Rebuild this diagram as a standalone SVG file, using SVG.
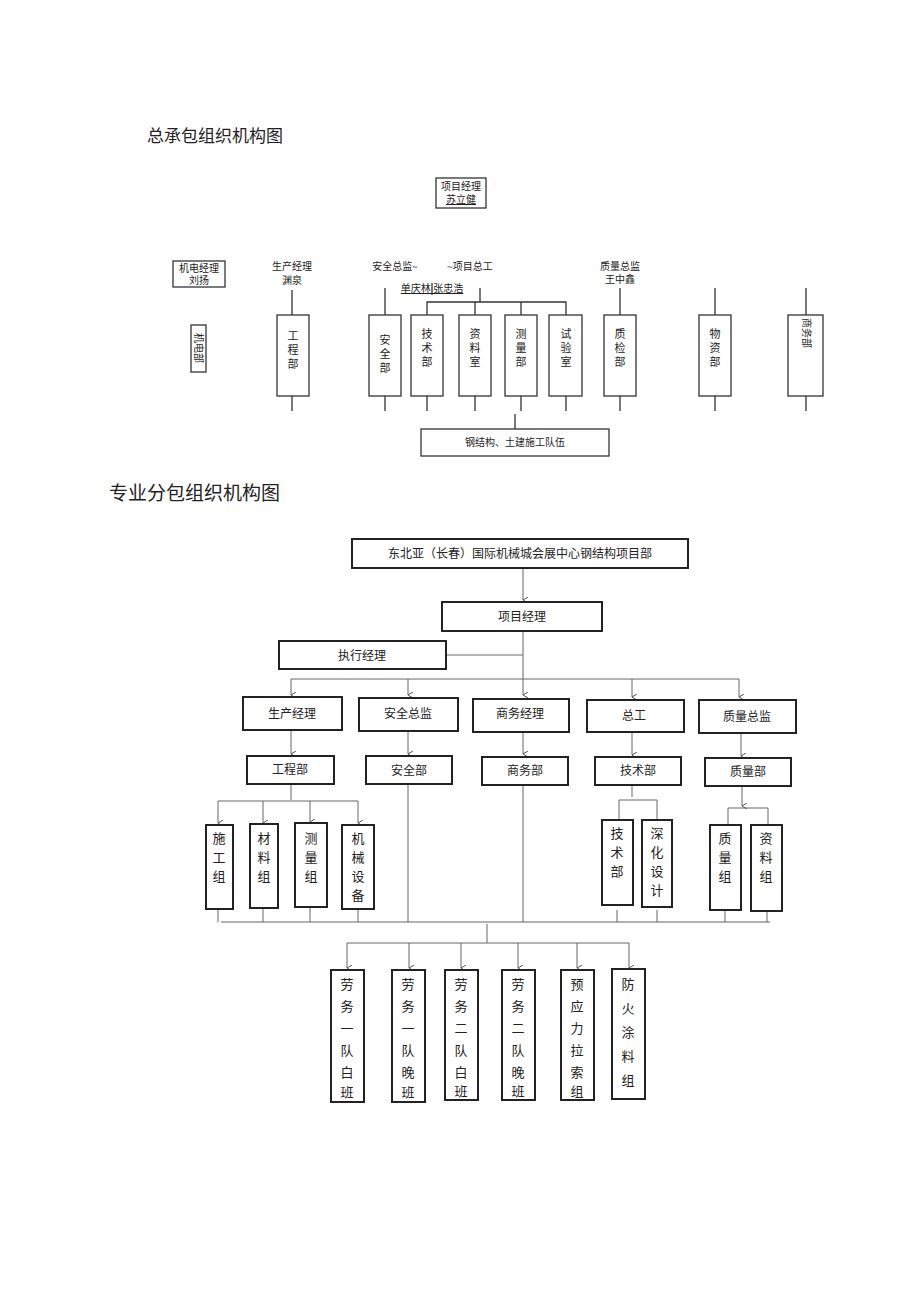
<svg xmlns="http://www.w3.org/2000/svg" width="920" height="1301" viewBox="0 0 920 1301">
<style>
text{font-family:"Liberation Serif","Noto Sans CJK SC",serif;fill:#222}
.b{fill:#fff;stroke:#333;stroke-width:1.3}
.bb{fill:#fff;stroke:#222;stroke-width:2}
.l{stroke:#333;stroke-width:1.3;fill:none}
.g{stroke:#666;stroke-width:1;fill:none}
.s{font-size:10px;text-anchor:middle}
.m{font-size:12px;text-anchor:middle;font-family:"Liberation Sans","Noto Sans CJK SC",sans-serif}
.v{font-size:13px;text-anchor:middle;font-family:"Liberation Sans","Noto Sans CJK SC",sans-serif}
.vs{font-size:11px;text-anchor:middle}
</style>
<defs><marker id="a" markerWidth="6" markerHeight="6" refX="3" refY="5" orient="auto-start-reverse" markerUnits="userSpaceOnUse"><path d="M0,0 L3,5 L6,0" fill="none" stroke="#555" stroke-width="1"/></marker></defs>
<rect width="920" height="1301" fill="#fff"/>
<text x="147" y="142" font-size="17">总承包组织机构图</text>
<g id="top">
<g id="pm1"><rect class="b" x="436" y="178" width="50" height="30"/><text class="s" x="461" y="190">项目经理</text><text class="s" x="461" y="203" text-decoration="underline">苏立健</text></g>
<g id="jd"><rect class="b" x="173" y="261" width="52" height="26"/><text class="s" x="199" y="272">机电经理</text><text class="s" x="199" y="284">刘扬</text></g>
<g id="jdb"><rect class="b" x="191" y="325" width="15" height="47"/><text class="s" transform="translate(195,348) rotate(90)">机电部</text></g>
<text class="s" x="292" y="270">生产经理</text><text class="s" x="292" y="284">渊泉</text>
<text class="s" x="395" y="270">安全总监~</text><text class="s" x="470" y="270">~项目总工</text>
<text class="s" x="432" y="292" text-decoration="underline">单庆林 张忠浩</text>
<line class="l" x1="432" y1="283" x2="432" y2="295" stroke-width="2"/>
<text class="s" x="620" y="270">质量总监</text><text class="s" x="620" y="283">王中鑫</text>
<g class="l">
<path d="M292 290V315M292 396V411M385 288V315M385 396V411M427 396V411M475 396V411M521 396V411M566 396V411M620 288V315M620 396V411M715 288V315M715 396V411M806 288V315M806 396V411"/>
<path d="M480 288V302M427 315V302H566V315M475 302V315M521 302V315M515 414V429"/>
</g>
<g id="gcb"><rect class="b" x="277" y="315" width="32" height="81"/><text class="vs" x="293" y="340">工</text><text class="vs" x="293" y="354">程</text><text class="vs" x="293" y="368">部</text></g>
<g id="aqb"><rect class="b" x="369" y="315" width="32" height="81"/><text class="vs" x="385" y="344">安</text><text class="vs" x="385" y="358">全</text><text class="vs" x="385" y="372">部</text></g>
<g id="jsb"><rect class="b" x="411" y="315" width="32" height="81"/><text class="vs" x="427" y="338">技</text><text class="vs" x="427" y="352">术</text><text class="vs" x="427" y="366">部</text></g>
<g id="zls"><rect class="b" x="459" y="315" width="32" height="81"/><text class="vs" x="475" y="338">资</text><text class="vs" x="475" y="352">料</text><text class="vs" x="475" y="366">室</text></g>
<g id="clb"><rect class="b" x="505" y="315" width="32" height="81"/><text class="vs" x="521" y="338">测</text><text class="vs" x="521" y="352">量</text><text class="vs" x="521" y="366">部</text></g>
<g id="sys"><rect class="b" x="549" y="315" width="33" height="81"/><text class="vs" x="566" y="338">试</text><text class="vs" x="566" y="352">验</text><text class="vs" x="566" y="366">室</text></g>
<g id="zjb"><rect class="b" x="604" y="315" width="32" height="81"/><text class="vs" x="620" y="338">质</text><text class="vs" x="620" y="352">检</text><text class="vs" x="620" y="366">部</text></g>
<g id="wzb"><rect class="b" x="699" y="315" width="32" height="81"/><text class="vs" x="715" y="338">物</text><text class="vs" x="715" y="352">资</text><text class="vs" x="715" y="366">部</text></g>
<g id="swb"><rect class="b" x="788" y="315" width="35" height="81"/><text class="s" transform="translate(803,333) rotate(90)">商务部</text></g>
<g id="gjg"><rect class="b" x="421" y="429" width="188" height="27"/><text class="s" x="515" y="446">钢结构、土建施工队伍</text></g>
</g>
<text x="109" y="500" font-size="19">专业分包组织机构图</text>
<g id="conn">
<g class="g">
<path d="M523 568V600" marker-end="url(#a)"/>
<path d="M523 631V695" marker-end="url(#a)"/>
<path d="M446 655H523"/>
<path d="M291 679H739"/>
<path d="M291 679V695" marker-end="url(#a)"/><path d="M408 679V695" marker-end="url(#a)"/><path d="M632 679V697" marker-end="url(#a)"/><path d="M739 679V697" marker-end="url(#a)"/>
<path d="M291 730V754" marker-end="url(#a)"/><path d="M408 731V754" marker-end="url(#a)"/><path d="M523 732V754" marker-end="url(#a)"/><path d="M632 732V755" marker-end="url(#a)"/><path d="M741 733V756" marker-end="url(#a)"/>
<path d="M291 784V800"/><path d="M218 801H358"/>
<path d="M218 801V823" marker-end="url(#a)"/><path d="M263 801V823" marker-end="url(#a)"/><path d="M310 801V822" marker-end="url(#a)"/><path d="M358 801V823" marker-end="url(#a)"/>
<path d="M632 785V797M619 800H657M619 800V820M657 800V820"/>
<path d="M742 786V806" marker-end="url(#a)"/><path d="M728 808H768M728 808V825M768 808V825"/>
<path d="M218 909V922M263 908V922M310 907V922M358 909V922M408 784V922M523 785V922M617 910V922M657 910V922M725 910V922M767 911V922"/>
<path d="M221 922H770"/>
<path d="M487 924V943"/><path d="M347 943H629"/>
<path d="M347 943V968" marker-end="url(#a)"/><path d="M409 943V968" marker-end="url(#a)"/><path d="M461 943V968" marker-end="url(#a)"/><path d="M518 943V968" marker-end="url(#a)"/><path d="M577 943V968" marker-end="url(#a)"/><path d="M629 943V968" marker-end="url(#a)"/>
</g>
</g>
<g id="n0"><rect class="bb" x="352" y="539" width="336" height="29"/><text class="m" x="520" y="558">东北亚（长春）国际机械城会展中心钢结构项目部</text></g>
<g id="n1"><rect class="bb" x="442" y="602" width="160" height="29"/><text class="m" x="522" y="621">项目经理</text></g>
<g id="n2"><rect class="bb" x="279" y="641" width="167" height="28"/><text class="m" x="362" y="660">执行经理</text></g>
<g id="n3"><rect class="bb" x="243" y="697" width="99" height="33"/><text class="m" x="292" y="718">生产经理</text></g>
<g id="n4"><rect class="bb" x="359" y="698" width="99" height="33"/><text class="m" x="408" y="718">安全总监</text></g>
<g id="n5"><rect class="bb" x="473" y="699" width="96" height="33"/><text class="m" x="520" y="718">商务经理</text></g>
<g id="n6"><rect class="bb" x="587" y="700" width="97" height="32"/><text class="m" x="634" y="720">总工</text></g>
<g id="n7"><rect class="bb" x="699" y="700" width="97" height="33"/><text class="m" x="747" y="721">质量总监</text></g>
<g id="n8"><rect class="bb" x="247" y="756" width="87" height="28"/><text class="m" x="290" y="774">工程部</text></g>
<g id="n9"><rect class="bb" x="366" y="756" width="86" height="28"/><text class="m" x="409" y="775">安全部</text></g>
<g id="n10"><rect class="bb" x="482" y="757" width="86" height="28"/><text class="m" x="525" y="775">商务部</text></g>
<g id="n11"><rect class="bb" x="595" y="757" width="86" height="28"/><text class="m" x="638" y="775">技术部</text></g>
<g id="n12"><rect class="bb" x="705" y="758" width="86" height="28"/><text class="m" x="748" y="776">质量部</text></g>
<g id="n13"><rect class="bb" x="206" y="825" width="27" height="84"/><text class="v" x="219" y="843">施</text><text class="v" x="219" y="862">工</text><text class="v" x="219" y="881">组</text></g>
<g id="n14"><rect class="bb" x="250" y="824" width="28" height="84"/><text class="v" x="264" y="843">材</text><text class="v" x="264" y="862">料</text><text class="v" x="264" y="881">组</text></g>
<g id="n15"><rect class="bb" x="295" y="823" width="32" height="84"/><text class="v" x="311" y="843">测</text><text class="v" x="311" y="862">量</text><text class="v" x="311" y="881">组</text></g>
<g id="n16"><rect class="bb" x="342" y="825" width="32" height="84"/><text class="v" x="358" y="843">机</text><text class="v" x="358" y="862">械</text><text class="v" x="358" y="881">设</text><text class="v" x="358" y="900">备</text></g>
<g id="n17"><rect class="bb" x="602" y="820" width="31" height="85"/><text class="v" x="617" y="838">技</text><text class="v" x="617" y="857">术</text><text class="v" x="617" y="876">部</text></g>
<g id="n18"><rect class="bb" x="642" y="820" width="30" height="87"/><text class="v" x="657" y="838">深</text><text class="v" x="657" y="857">化</text><text class="v" x="657" y="876">设</text><text class="v" x="657" y="895">计</text></g>
<g id="n19"><rect class="bb" x="710" y="825" width="31" height="85"/><text class="v" x="725" y="843">质</text><text class="v" x="725" y="862">量</text><text class="v" x="725" y="881">组</text></g>
<g id="n20"><rect class="bb" x="751" y="825" width="31" height="86"/><text class="v" x="766" y="843">资</text><text class="v" x="766" y="862">料</text><text class="v" x="766" y="881">组</text></g>
<g id="n21"><rect class="bb" x="331" y="970" width="33" height="132"/><text class="v" x="347" y="989">劳</text><text class="v" x="347" y="1011">务</text><text class="v" x="347" y="1033">一</text><text class="v" x="347" y="1055">队</text><text class="v" x="347" y="1077">白</text><text class="v" x="347" y="1097">班</text></g>
<g id="n22"><rect class="bb" x="392" y="970" width="33" height="132"/><text class="v" x="408" y="989">劳</text><text class="v" x="408" y="1011">务</text><text class="v" x="408" y="1033">一</text><text class="v" x="408" y="1055">队</text><text class="v" x="408" y="1077">晚</text><text class="v" x="408" y="1097">班</text></g>
<g id="n23"><rect class="bb" x="445" y="970" width="33" height="130"/><text class="v" x="461" y="989">劳</text><text class="v" x="461" y="1011">务</text><text class="v" x="461" y="1033">二</text><text class="v" x="461" y="1055">队</text><text class="v" x="461" y="1077">白</text><text class="v" x="461" y="1096">班</text></g>
<g id="n24"><rect class="bb" x="502" y="970" width="33" height="130"/><text class="v" x="518" y="989">劳</text><text class="v" x="518" y="1011">务</text><text class="v" x="518" y="1033">二</text><text class="v" x="518" y="1055">队</text><text class="v" x="518" y="1077">晚</text><text class="v" x="518" y="1096">班</text></g>
<g id="n25"><rect class="bb" x="561" y="970" width="33" height="130"/><text class="v" x="577" y="989">预</text><text class="v" x="577" y="1011">应</text><text class="v" x="577" y="1033">力</text><text class="v" x="577" y="1055">拉</text><text class="v" x="577" y="1077">索</text><text class="v" x="577" y="1096">组</text></g>
<g id="n26"><rect class="bb" x="612" y="969" width="33" height="130"/><text class="v" x="628" y="989">防</text><text class="v" x="628" y="1013">火</text><text class="v" x="628" y="1037">涂</text><text class="v" x="628" y="1061">料</text><text class="v" x="628" y="1085">组</text></g>
</svg>
